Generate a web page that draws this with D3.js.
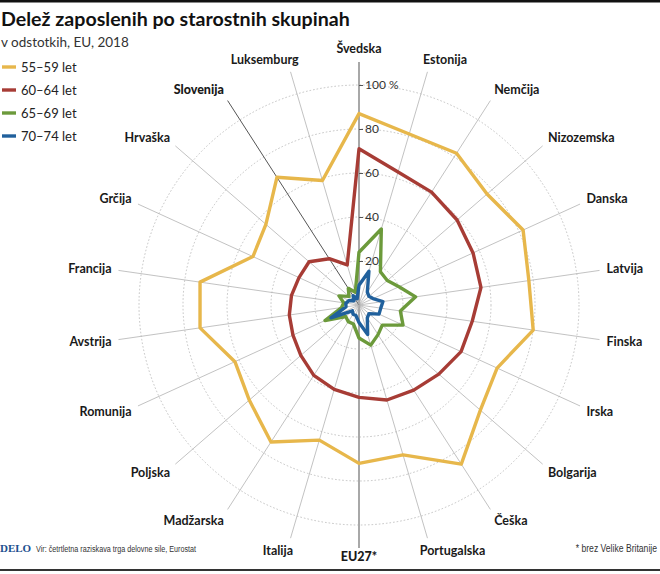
<!DOCTYPE html>
<html>
<head>
<meta charset="utf-8">
<script src="https://cdn.jsdelivr.net/npm/d3@7"></script>
<style>
  html, body { margin: 0; padding: 0; background: #fff; }
  svg { display: block; }
  text { font-family: Lato, "Open Sans", sans-serif; }
</style>
</head>
<body>
<svg id="chart" width="660" height="574"></svg>
<script>
// ---------- data ----------
const categories = ["Švedska","Estonija","Nemčija","Nizozemska","Danska","Latvija","Finska","Irska","Bolgarija","Češka","Portugalska","EU27*","Italija","Madžarska","Poljska","Romunija","Avstrija","Francija","Grčija","Hrvaška","Slovenija","Luksemburg"];
const age55_59 = [87,81,82,77,82,78,80,69,73,86,71,72,64,74,66,62,73,73,53,56,69,59];
const age60_64 = [71,63,61,59,57,56,52,51,48,46,45,42,40,38,35,33,32,31,30,30,25,19];
const age65_69 = [24,36,18,17,20,26,19,22,14,16,19,15,9,9,8,17,8,7,10,6,9,6];
const age70_74 = [9,16,7,6,7,11,10,10,6,7,14,8,5,5,4,14,6,6,5,3,5,3];
const seriesNames = ["55–59 let","60–64 let","65–69 let","70–74 let"];
const tickValues = [20,40,60,80,100];
const highlighted = ["Slovenija","EU27*"];

const title = "Delež zaposlenih po starostnih skupinah";
const subtitle = "v odstotkih, EU, 2018";
const source = "Vir: četrtletna raziskava trga delovne sile, Eurostat";
const note = "* brez Velike Britanije";

// ---------- layout ----------
const W = 660, H = 574;
const cx = 359, cy = 305;
const R = 220, spokeR = 243, labelR = 250;
const colors = ["#e7b74b","#a73c35","#6c9a3b","#20609c"];
const seriesData = [age55_59, age60_64, age65_69, age70_74];

const svg = d3.select("#chart");

const angle = d3.scaleLinear().domain([0, categories.length]).range([0, 2 * Math.PI]);
const r = d3.scaleLinear().domain([0, 100]).range([0, R]);

const g = svg.append("g").attr("transform", `translate(${cx},${cy})`);

// grid circles
g.selectAll("circle.grid").data(tickValues).join("circle")
  .attr("class","grid")
  .attr("r", d => r(d))
  .attr("fill","none")
  .attr("stroke","#b5b5b5")
  .attr("stroke-width",0.8)
  .attr("stroke-dasharray","1.6,2");

// spokes
g.selectAll("line.spoke").data(categories).join("line")
  .attr("class","spoke")
  .attr("x1",0).attr("y1",0)
  .attr("x2",(d,i)=> spokeR*Math.sin(angle(i)))
  .attr("y2",(d,i)=> -spokeR*Math.cos(angle(i)))
  .attr("stroke", d => d === "Slovenija" ? "#555" : (d === "Švedska" || d === "EU27*") ? "#a8a8a8" : "#b3b3b3")
  .attr("stroke-width", d => d === "Slovenija" ? 1 : (d === "Švedska" || d === "EU27*") ? 2 : 0.8);

// series
const radial = d3.lineRadial()
  .angle((d,i)=> angle(i))
  .radius(d => r(d))
  .curve(d3.curveLinearClosed);

g.selectAll("path.series").data(seriesData).join("path")
  .attr("class","series")
  .attr("d", d => radial(d))
  .attr("fill","none")
  .attr("stroke",(d,i)=> colors[i])
  .attr("stroke-width",3.4)
  .attr("stroke-linejoin","round");

// value axis on the vertical spoke
const yScale = d3.scaleLinear().domain([0,100]).range([0,-R]);
const axis = d3.axisRight(yScale)
  .tickValues(tickValues)
  .tickSize(4)
  .tickPadding(2)
  .tickFormat(d => d === 100 ? "100 %" : d);
const ax = g.append("g").call(axis);
ax.select(".domain").remove();
ax.selectAll(".tick line").attr("stroke","#555").attr("stroke-width",1);
ax.selectAll(".tick text")
  .attr("fill","#333")
  .style("font-family","Lato, sans-serif")
  .style("font-size","12px");

// category labels
const labels = g.selectAll("text.cat").data(categories).join("text")
  .attr("class","cat")
  .text(d => d)
  .attr("fill","#1a1a1a")
  .style("font-size","12.5px")
  .style("font-weight", d => highlighted.includes(d) ? 900 : 700)
  .attr("dy","0.35em");
labels.each(function(d,i){
  const a = angle(i);
  const s = Math.sin(a), c = Math.cos(a);
  const w = this.getComputedTextLength();
  const f = (1 - Math.max(-1, Math.min(1, 2.5*s))) / 2;
  const rr = Math.abs(s) < 0.05 && c < 0 ? labelR - 4 : labelR;
  const px = rr*s, py = -rr*c - c*6;
  d3.select(this).attr("x", px - f*w).attr("y", py);
});

// title
svg.append("rect").attr("x",0).attr("y",0).attr("width",W).attr("height",2.5).attr("fill","#111");
svg.append("text").attr("x",1).attr("y",26).text(title)
  .style("font-size","19.6px").style("font-weight",700).attr("fill","#111");
svg.append("text").attr("x",1).attr("y",47).text(subtitle)
  .style("font-size","13.5px").attr("fill","#333");

// legend
const leg = svg.append("g").selectAll("g").data(seriesNames).join("g")
  .attr("transform",(d,i)=>`translate(0,${67 + i*23})`);
leg.append("line").attr("x1",2).attr("x2",16).attr("y1",0).attr("y2",0)
  .attr("stroke",(d,i)=>colors[i]).attr("stroke-width",3.4);
leg.append("text").attr("x",21).attr("dy","0.35em").text(d=>d)
  .style("font-size","13px").attr("fill","#222");

// footer
svg.append("text").attr("x",0).attr("y",552).text("DELO")
  .style("font-family","'Liberation Serif', 'DejaVu Serif', serif")
  .style("font-size","11px").style("font-weight",700).attr("fill","#1d4f8f");
svg.append("text").attr("transform","translate(36,551.5) scale(0.76,1)").text(source)
  .style("font-family","'Liberation Sans', sans-serif")
  .style("font-size","9.5px").attr("fill","#333");
svg.append("text").attr("transform","translate(657,551.5) scale(0.82,1)").attr("text-anchor","end").text(note)
  .style("font-family","'Liberation Sans', sans-serif")
  .style("font-size","10.5px").attr("fill","#333");
svg.append("rect").attr("x",0).attr("y",569).attr("width",W).attr("height",2).attr("fill","#333");
</script>
</body>
</html>
